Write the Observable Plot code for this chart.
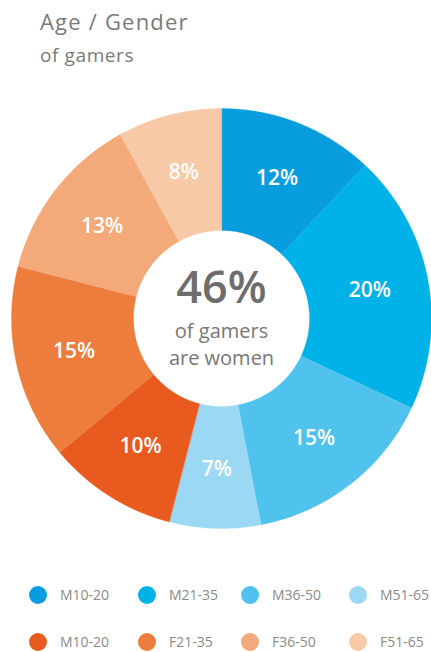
<!DOCTYPE html>
<html><head><meta charset="utf-8">
<script src="https://cdn.jsdelivr.net/npm/d3@7"></script>
<script src="https://cdn.jsdelivr.net/npm/@observablehq/plot@0.6"></script>
<style>
body{margin:0;background:#fff;font-family:"Open Sans",Lato,sans-serif;}
#wrap{position:relative;width:431px;height:652px;overflow:hidden;background:#fff}
#title{position:absolute;left:40px;top:10px;font-size:22px;line-height:22px;letter-spacing:1.2px;color:#7a7a7a;white-space:nowrap}
#subtitle{position:absolute;left:40px;top:46px;font-size:19px;line-height:19px;letter-spacing:0.6px;color:#7a7a7a;white-space:nowrap}
#chart{position:absolute;left:0;top:88px}
.lg{position:absolute;display:flex;align-items:center;font-size:14px;color:#8a8a8a;white-space:nowrap}
.lg .dot{width:18px;height:18px;border-radius:50%;margin-right:13px}
</style></head><body>
<div id="wrap">
  <div id="title">Age / Gender</div>
  <div id="subtitle">of gamers</div>
  <div id="chart"></div>
  <div id="legend"></div>
</div>
<script>
// ---- data ----
const groups = ["M10-20","M21-35","M36-50","M51-65","F10-20","F21-35","F36-50","F51-65"];
const legendLabels = ["M10-20","M21-35","M36-50","M51-65","M10-20","F21-35","F36-50","F51-65"];
const shares = [12,20,15,7,10,15,13,8];
const colors = ["#079ddf","#00b2e7","#4fc3ee","#9bd8f3","#e95a1f","#ed7d3d","#f3a97a","#f8c9a6"];
const womenShare = 46;
const centerLines = ["of gamers","are women"];

// ---- geometry (unit circle, y down) ----
const innerRatio = 88/210;
const total = d3.sum(shares);
const pt = (a, r) => [Math.sin(a) * r, -Math.cos(a) * r];
let acc = 0;
const slices = shares.map((v, i) => {
  const a0 = acc / total * 2 * Math.PI; acc += v;
  const a1 = acc / total * 2 * Math.PI;
  const steps = Math.max(2, Math.ceil((a1 - a0) / (Math.PI / 360)));
  const ring = [];
  for (let k = 0; k <= steps; k++) ring.push(pt(a0 + (a1 - a0) * k / steps, 1));
  for (let k = steps; k >= 0; k--) ring.push(pt(a0 + (a1 - a0) * k / steps, innerRatio));
  ring.push(ring[0]);
  const [cx, cy] = pt((a0 + a1) / 2, (1 + innerRatio) / 2 + 0.01);
  return {group: groups[i], share: v, cx, cy,
    feature: {type: "Feature", properties: {group: groups[i]}, geometry: {type: "Polygon", coordinates: [ring]}}};
});
const features = slices.map(d => d.feature);

const font = "'Open Sans', Lato, sans-serif";
const chart = Plot.plot({
  width: 431, height: 470,
  marginLeft: 11, marginRight: 0, marginTop: 20, marginBottom: 30,
  projection: {type: "identity", domain: {type: "MultiPoint", coordinates: [[-1, -1], [1, 1]]}},
  color: {type: "ordinal", domain: groups, range: colors},
  style: {fontFamily: font, background: "white"},
  marks: [
    Plot.geo(features, {fill: d => d.properties.group, stroke: d => d.properties.group, strokeWidth: 0.3}),
    Plot.text(slices, {x: "cx", y: "cy", text: d => d.share + "%", fill: "white", fontWeight: 600, fontSize: 21}),
    Plot.text([womenShare + "%"], {frameAnchor: "middle", dy: -30, text: d => d, fill: "#6d6d6d", fontWeight: 600, fontSize: 45}),
    Plot.text(centerLines, {frameAnchor: "middle", text: d => d, fill: "#777", fontSize: 20, filter: (d, i) => i === 0, dy: 13}),
    Plot.text(centerLines, {frameAnchor: "middle", text: d => d, fill: "#777", fontSize: 20, filter: (d, i) => i === 1, dy: 40})
  ]
});
document.getElementById("chart").appendChild(chart);

// ---- legend ----
const colX = [29, 138, 241, 349];
const rowY = [585, 632];
const lg = document.getElementById("legend");
legendLabels.forEach((lab, i) => {
  const el = document.createElement("div");
  el.className = "lg";
  el.style.left = colX[i % 4] + "px";
  el.style.top = rowY[Math.floor(i / 4)] + "px";
  const dot = document.createElement("span");
  dot.className = "dot";
  dot.style.background = colors[i];
  el.appendChild(dot);
  el.appendChild(document.createTextNode(lab));
  lg.appendChild(el);
});
</script>
</body></html>
